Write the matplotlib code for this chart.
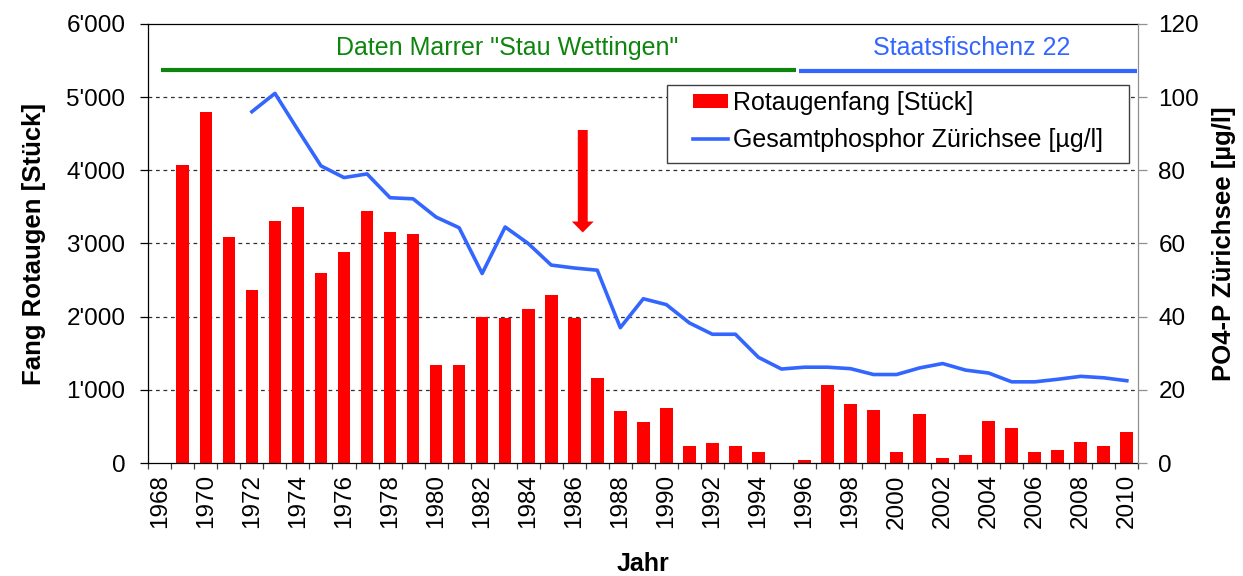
import numpy as np
import matplotlib
matplotlib.use('Agg')
import matplotlib.pyplot as plt
from matplotlib.patches import Rectangle
from matplotlib.lines import Line2D
from matplotlib.ticker import FuncFormatter

plt.rcParams['font.family'] = ['Liberation Sans', 'DejaVu Sans']

# Rotaugenfang (Stück), 1969-2010
catch_years = list(range(1969, 2011))
catch = [4070, 4790, 3085, 2360, 3310, 3500, 2590, 2890, 3440, 3150,
         3130, 1340, 1340, 1995, 1980, 2110, 2290, 1980, 1165, 710,
         560, 750, 230, 275, 230, 155, 0, 45, 1065, 805,
         725, 155, 675, 75, 115, 580, 480, 155, 180, 290,
         240, 430]

# Gesamtphosphor Zürichsee (µg/l), 1972-2010
p_years = list(range(1972, 2011))
phosphor = [96.0, 101.0, 91.0, 81.2, 78.0, 79.0, 72.5, 72.2, 67.2, 64.3,
            51.8, 64.5, 60.0, 54.1, 53.3, 52.7, 37.0, 44.9, 43.3, 38.3,
            35.2, 35.2, 28.9, 25.7, 26.2, 26.2, 25.8, 24.2, 24.2, 26.0,
            27.2, 25.4, 24.6, 22.2, 22.2, 22.9, 23.7, 23.3, 22.5]

label_years = list(range(1968, 2011, 2))
left_ticks = [0, 1000, 2000, 3000, 4000, 5000, 6000]
right_ticks = [0, 20, 40, 60, 80, 100, 120]

red = '#FF0000'
blue = '#3366FF'
green = '#0E850E'

fig = plt.figure(figsize=(12.43, 5.76), dpi=100)
ax = fig.add_axes([0.1193, 0.196, 0.7965, 0.7626])
ax2 = ax.twinx()

# bars
ax.bar(catch_years, catch, width=0.55, color=red, zorder=2)
ax.set_xlim(1967.5, 2010.5)
ax.set_ylim(0, 6000)
ax.set_yticks(left_ticks)
ax.yaxis.set_major_formatter(FuncFormatter(lambda v, p: f"{int(v):,}".replace(',', "'")))
for v in left_ticks[1:-1]:
    ax.axhline(v, color='#303030', lw=0.9, ls=(0, (3, 3)), zorder=1)

ax.set_xticks(label_years)
ax.set_xticks(np.arange(1967.5, 2011, 1), minor=True)
ax.tick_params(axis='x', which='major', length=0, pad=8, labelsize=17.5, labelrotation=90)
ax.tick_params(axis='x', which='minor', length=4.5, width=0.9, direction='out', color='#404040')
ax.tick_params(axis='y', length=5.5, width=0.9, pad=11, labelsize=17.5)
for s in ['left', 'bottom', 'top']:
    ax.spines[s].set_linewidth(0.9)
ax.spines['right'].set_visible(False)

ax.set_ylabel('Fang Rotaugen [Stück]', fontsize=18.5, fontweight='bold', labelpad=15)
ax.set_xlabel('Jahr', fontsize=18, fontweight='bold', labelpad=17)

# data source headers
ax.plot([1968.04, 1995.62], [5370, 5370], color=green, lw=3, solid_capstyle='butt', zorder=3)
ax.plot([1995.77, 2010.44], [5360, 5360], color=blue, lw=3, solid_capstyle='butt', zorder=3)
ax.text(1983.1, 5672, 'Daten Marrer "Stau Wettingen"', color=green, fontsize=18,
        ha='center', va='center')
ax.text(2003.26, 5672, 'Staatsfischenz 22', color=blue, fontsize=18,
        ha='center', va='center')

# arrow at 1986
ax.arrow(1986.37, 4550, 0, -1400, width=0.43, head_width=0.95, head_length=150,
         length_includes_head=True, color=red, lw=0, zorder=4)

# phosphor line
ax2.plot(p_years, phosphor, color=blue, lw=2.6, zorder=3)
ax2.set_ylim(0, 120)
ax2.set_yticks(right_ticks)
ax2.tick_params(axis='y', length=6.5, width=0.9, color='#909090', pad=8, labelsize=17.5)
ax2.spines['right'].set_color('#909090')
ax2.spines['right'].set_linewidth(0.9)
for s in ['left', 'bottom', 'top']:
    ax2.spines[s].set_visible(False)
ax2.set_ylabel('PO4-P Zürichsee [µg/l]', fontsize=18.5, fontweight='bold', labelpad=9)

# legend with Excel-like frame
ax2.add_patch(Rectangle((0.524, 0.684), 0.4666, 0.177, transform=ax2.transAxes,
                        facecolor='white', edgecolor='#404040', lw=1, zorder=5))
handles = [Rectangle((0, 0), 1, 1, facecolor=red),
           Line2D([], [], color=blue, lw=2.6)]
ax2.legend(handles, ['Rotaugenfang [Stück]', 'Gesamtphosphor Zürichsee [µg/l]'],
           loc='upper left', bbox_to_anchor=(0.55, 0.847), frameon=False,
           borderpad=0, borderaxespad=0, fontsize=18, handlelength=1.4,
           handleheight=0.5, handletextpad=0.2, labelspacing=0.5).set_zorder(6)

fig.savefig('out.png', dpi=100)
